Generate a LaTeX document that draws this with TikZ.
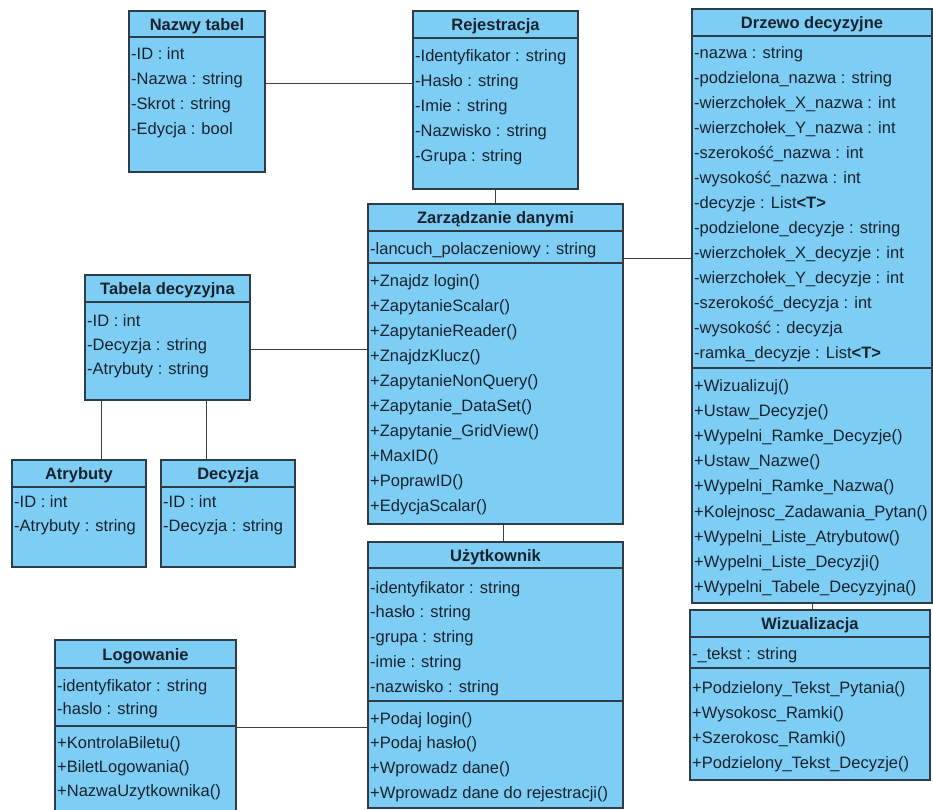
\documentclass[tikz,border=0pt]{standalone}
\usepackage{fontspec}
\setmainfont{Liberation Sans}
\usepackage{xcolor}
\usepackage{tikz}
\definecolor{clsfill}{RGB}{125,205,245}
\definecolor{clsdraw}{RGB}{45,60,70}
\definecolor{clstext}{RGB}{25,35,45}
\newcommand\clsfont{\fontsize{16.5}{20}\selectfont}
\tikzstyle{clsbox}=[draw=clsdraw,line width=1.2pt,fill=clsfill,anchor=north west,inner sep=0pt,outer sep=0pt]
\tikzstyle{clsline}=[draw=clsdraw,line width=1.2pt]
\tikzstyle{clstitle}=[anchor=base,inner sep=0pt,font=\clsfont\bfseries,text=clstext]
\tikzstyle{clsrow}=[anchor=base west,inner sep=0pt,font=\clsfont,text=clstext]
\tikzstyle{assoc}=[draw=black!75,line width=1pt]
% box: name, corner, width, height, title, header height
\newcommand\clsbox[6]{%
  \node[clsbox,minimum width=#3pt,minimum height=#4pt] (#1) at (#2) {};
  \node[clstitle] (#1-t) at ([yshift={-(#6/2+6)*1pt}]#1.north) {#5};
  \draw[clsline] ([yshift=-#6pt]#1.north west) -- ([yshift=-#6pt]#1.north east);
}
\newcommand\clssep[2]{%
  \draw[clsline] ([yshift=-#2pt]#1.north west) -- ([yshift=-#2pt]#1.north east);
}
% rows: name, part, first baseline, pitch, texts
\newcommand\clsrows[5]{%
  \foreach \txt [count=\i] in {#5}
    \node[clsrow] (#1-#2\i) at ([xshift=2pt,yshift={-(#3+(\i-1)*#4)*1pt}]#1.north west) {\txt};
}
\newcommand\lT{List\textbf{<T>}}

\begin{document}
\begin{tikzpicture}[x=1pt,y=-1pt]
	\clip (0,0) rectangle (933,809);
	\fill[white] (0,0) rectangle (933,809);

	\clsbox{nazwy}{129,11}{136}{161}{Nazwy tabel}{26}
	\clsrows{nazwy}{a}{48}{25}{-ID : int, -Nazwa : string, -Skrot : string, -Edycja : bool}

	\clsbox{rejestr}{413,11}{165}{178}{Rejestracja}{27}
	\clsrows{rejestr}{a}{50}{25}{-Identyfikator : string, -Hasło : string, -Imie : string, -Nazwisko : string, -Grupa : string}

	\clsbox{drzewo}{692,9}{240}{594}{Drzewo decyzyjne}{27}
	\clssep{drzewo}{359}
	\clsrows{drzewo}{a}{49}{25}{-nazwa : string, -podzielona\_nazwa : string,
		-wierzchołek\_X\_nazwa : int, -wierzchołek\_Y\_nazwa : int,
		-szerokość\_nazwa : int, -wysokość\_nazwa : int, -decyzje : \lT,
		-podzielone\_decyzje : string, -wierzchołek\_X\_decyzje : int,
		-wierzchołek\_Y\_decyzje : int, -szerokość\_decyzja : int,
		-wysokość : decyzja, -ramka\_decyzje : \lT}
	\clsrows{drzewo}{m}{382}{25.2}{+Wizualizuj(), +Ustaw\_Decyzje(), +Wypelni\_Ramke\_Decyzje(),
		+Ustaw\_Nazwe(), +Wypelni\_Ramke\_Nazwa(), +Kolejnosc\_Zadawania\_Pytan(),
		+Wypelni\_Liste\_Atrybutow(), +Wypelni\_Liste\_Decyzji(), +Wypelni\_Tabele\_Decyzyjna()}

	\clsbox{zarzadz}{368,204}{255}{320}{Zarządzanie danymi}{27}
	\clssep{zarzadz}{59}
	\clsrows{zarzadz}{a}{50}{25}{-lancuch\_polaczeniowy : string}
	\clsrows{zarzadz}{m}{82}{25}{+Znajdz login(), +ZapytanieScalar(), +ZapytanieReader(),
		+ZnajdzKlucz(), +ZapytanieNonQuery(), +Zapytanie\_DataSet(), +Zapytanie\_GridView(),
		+MaxID(), +PoprawID(), +EdycjaScalar()}

	\clsbox{tabela}{85,275}{165}{125}{Tabela decyzyjna}{27}
	\clsrows{tabela}{a}{51}{24}{-ID : int, -Decyzja : string, -Atrybuty : string}

	\clsbox{atryb}{12,460}{134}{107}{Atrybuty}{27}
	\clsrows{atryb}{a}{47}{24}{-ID : int, -Atrybuty : string}

	\clsbox{decyzja}{161,460}{134}{107}{Decyzja}{27}
	\clsrows{decyzja}{a}{47}{24}{-ID : int, -Decyzja : string}

	\clsbox{uzytk}{368,542}{255}{266}{Użytkownik}{26}
	\clssep{uzytk}{159}
	\clsrows{uzytk}{a}{51}{24.8}{-identyfikator : string, -hasło : string, -grupa : string,
		-imie : string, -nazwisko : string}
	\clsrows{uzytk}{m}{182}{24.7}{+Podaj login(), +Podaj hasło(), +Wprowadz dane(),
		+Wprowadz dane do rejestracji()}

	\clsbox{logow}{55,640}{181}{172}{Logowanie}{28}
	\clssep{logow}{86}
	\clsrows{logow}{a}{51}{23}{-identyfikator : string, -haslo : string}
	\clsrows{logow}{m}{108}{24}{+KontrolaBiletu(), +BiletLogowania(), +NazwaUzytkownika()}

	\clsbox{wizual}{690,610}{240}{170}{Wizualizacja}{27}
	\clssep{wizual}{58}
	\clsrows{wizual}{a}{49}{25}{-\_tekst : string}
	\clsrows{wizual}{m}{83}{25.3}{+Podzielony\_Tekst\_Pytania(), +Wysokosc\_Ramki(),
		+Szerokosc\_Ramki(), +Podzielony\_Tekst\_Decyzje()}

	% associations
	\coordinate (nz) at ([yshift=8pt]nazwy.east);
	\draw[assoc] (nz) -- (nz -| rejestr.west);
	\draw[assoc] (rejestr.south) -- (rejestr.south |- zarzadz.north);
	\coordinate (zd) at ([yshift=-54pt]zarzadz.north east);
	\draw[assoc] (zd) -- (zd -| drzewo.west);
	\coordinate (tz) at ([yshift=-74pt]tabela.north east);
	\draw[assoc] (tz) -- (tz -| zarzadz.west);
	\coordinate (ta) at ([xshift=16pt]tabela.south west);
	\draw[assoc] (ta) -- (ta |- atryb.north);
	\coordinate (td) at ([xshift=121pt]tabela.south west);
	\draw[assoc] (td) -- (td |- decyzja.north);
	\coordinate (zu) at ([xshift=8pt]zarzadz.south);
	\draw[assoc] (zu) -- (zu |- uzytk.north);
	\coordinate (lu) at ([yshift=-87pt]logow.north east);
	\draw[assoc] (lu) -- (lu -| uzytk.west);
	\draw[assoc] (drzewo.south) -- (drzewo.south |- wizual.north);
\end{tikzpicture}
\end{document}
